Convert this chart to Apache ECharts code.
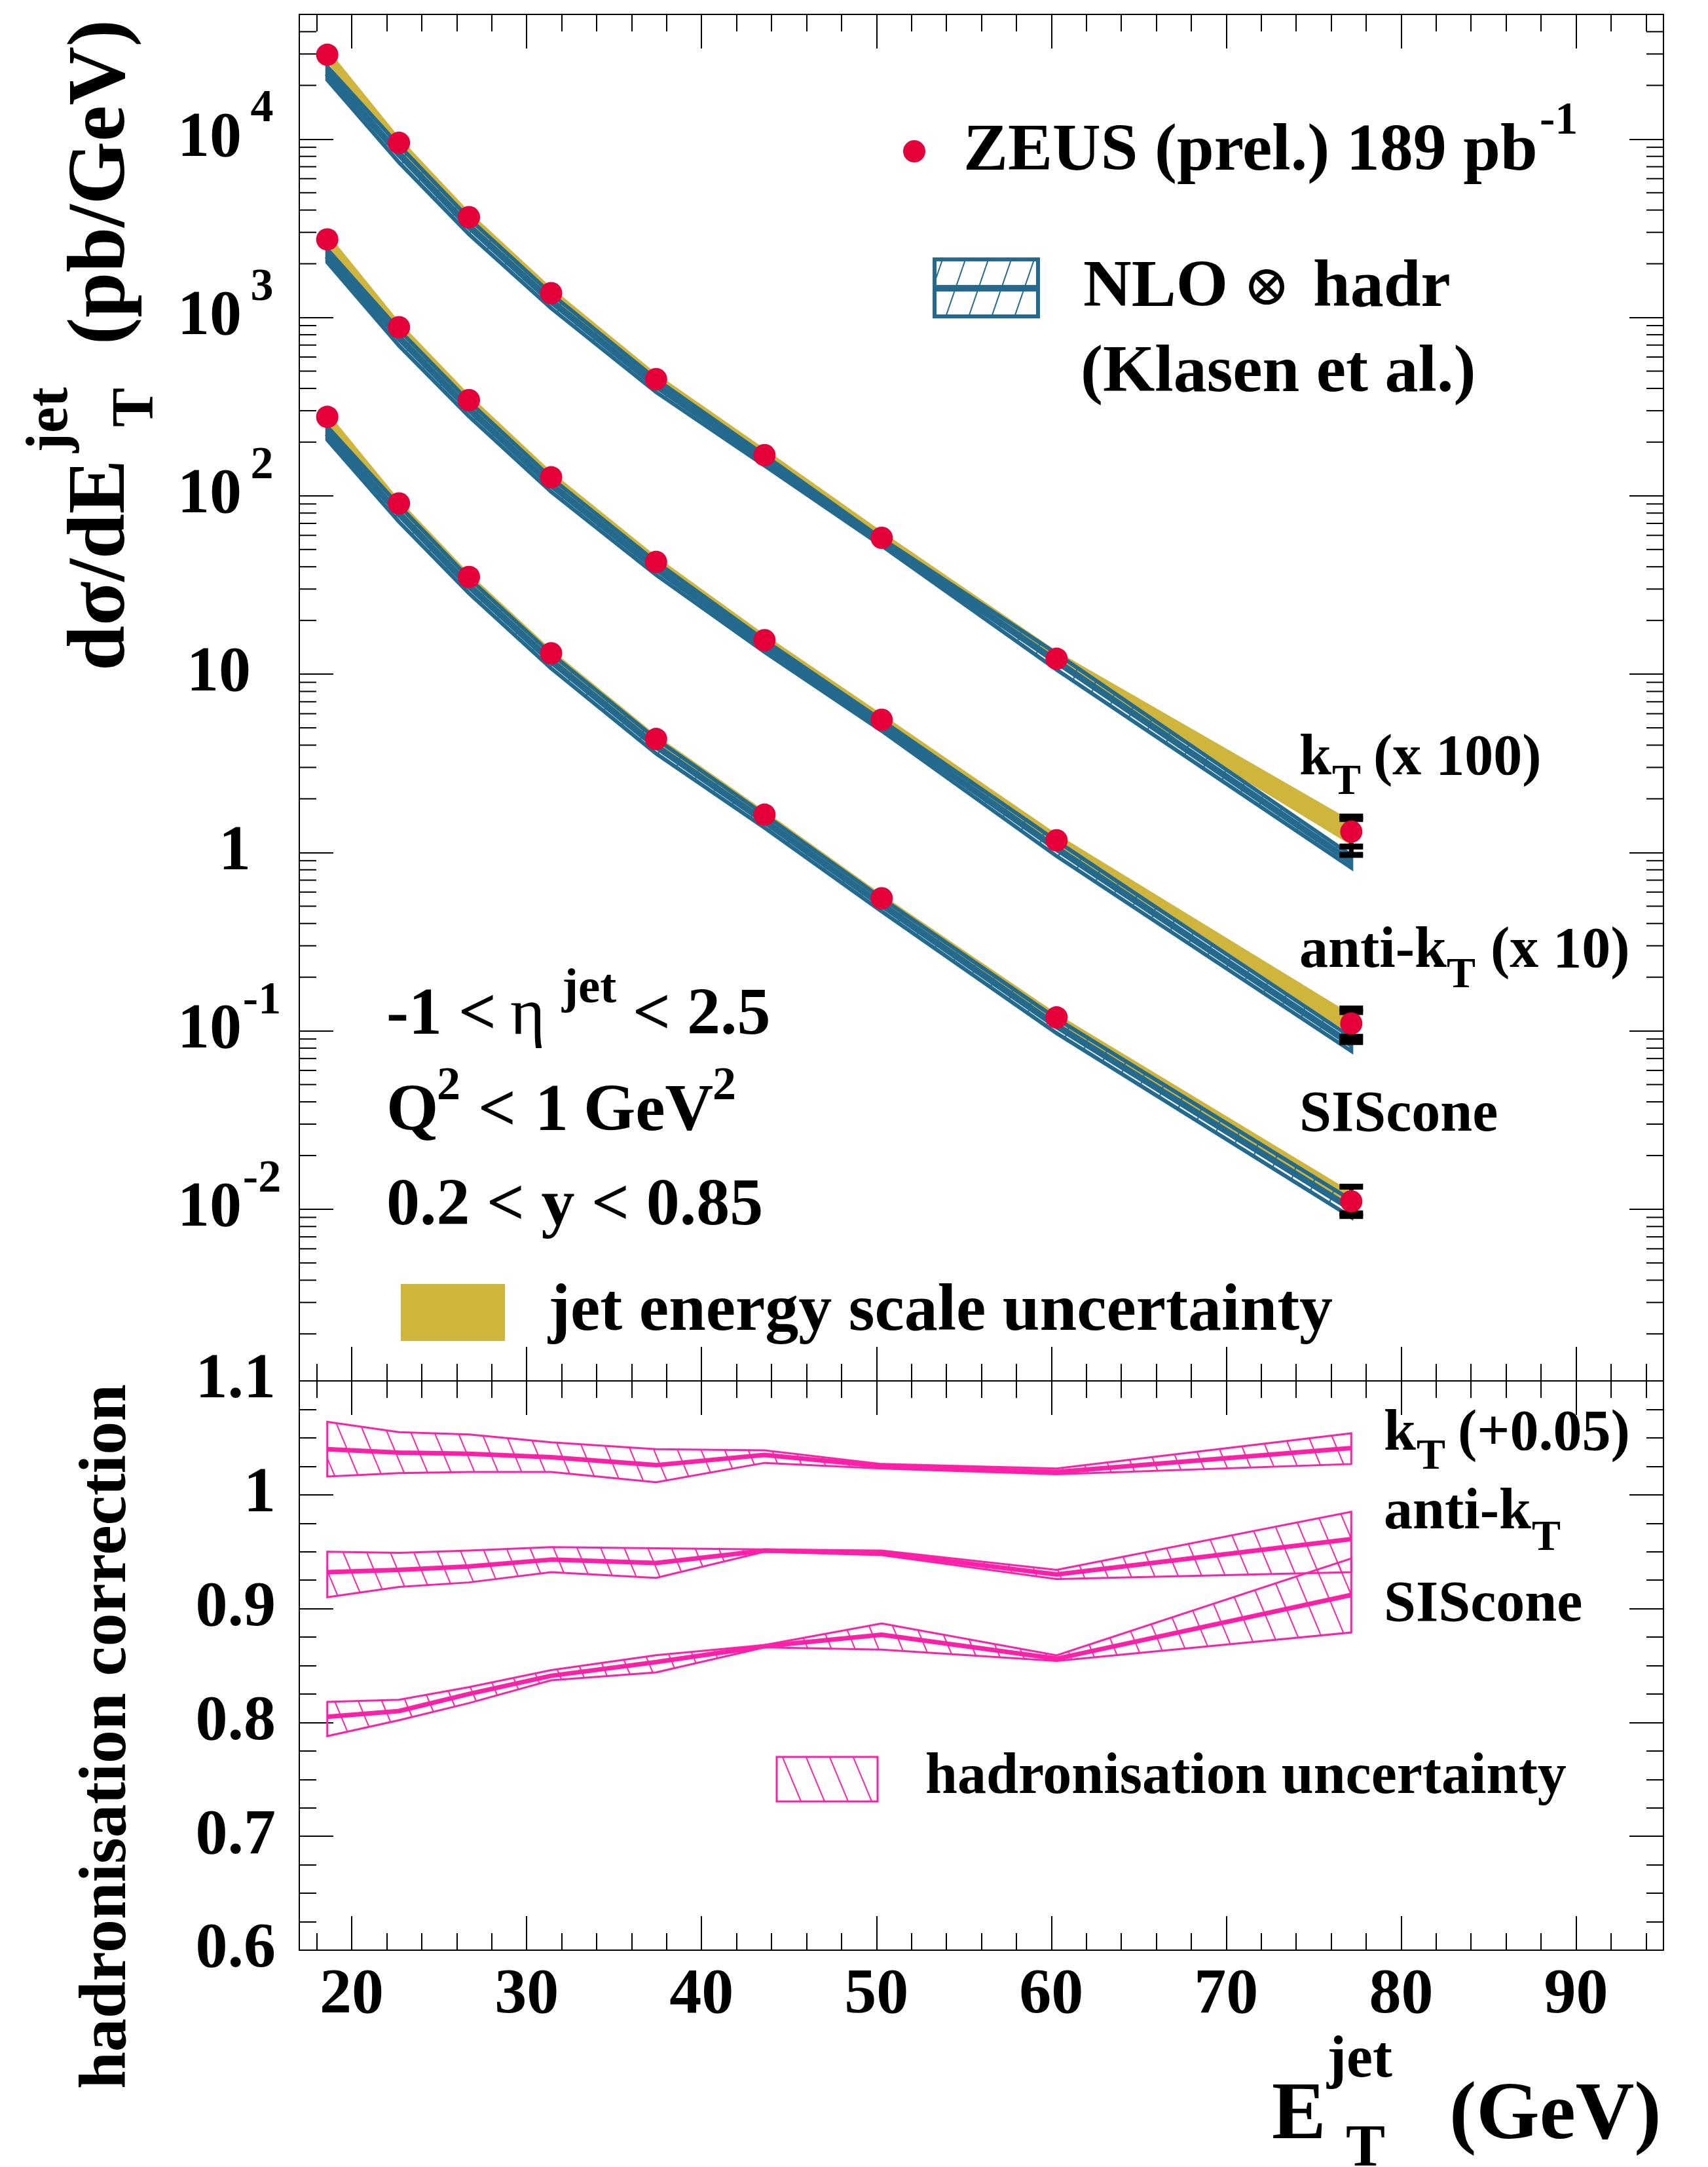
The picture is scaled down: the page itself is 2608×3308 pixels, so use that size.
<!DOCTYPE html>
<html>
<head>
<meta charset="utf-8">
<script src="https://cdn.jsdelivr.net/npm/echarts@6/dist/echarts.min.js"></script>
<style>
  html, body { margin: 0; padding: 0; background: #fff; }
  #chart { width: 2608px; height: 3308px; }
</style>
</head>
<body>
<div id="chart"></div>
<script>
// ---------------- data ----------------
// mean E_T^jet of each bin (GeV)
const etJet = [18.6, 22.7, 26.7, 31.4, 37.4, 43.6, 50.3, 60.3, 77.15];

// inclusive jet cross sections dσ/dE_T (pb/GeV), unscaled
const ktScale = 100, antiScale = 10, sisScale = 1;

const ktData  = [297, 95.3, 36.5, 13.68, 4.51, 1.69, 0.581, 0.122, 0.0131];
const ktStat  = [1.5, 0.5, 0.2, 0.08, 0.03, 0.012, 0.005, 0.0015, 0.0023];
const ktTotUp = [10, 3.5, 1.4, 0.6, 0.2, 0.08, 0.03, 0.007, 0.0028];
const ktTotDn = [10, 3.5, 1.4, 0.6, 0.2, 0.08, 0.03, 0.007, 0.0034];
const ktJesUp = [323, 102.8, 39.4, 14.76, 4.87, 1.84, 0.632, 0.135, 0.01513];
const ktJesDn = [268.5, 87.6, 33.55, 12.57, 4.14, 1.55, 0.534, 0.112, 0.01096];
const ktNlo   = [234, 82.6, 32.4, 12.36, 4.15, 1.58, 0.55, 0.118, 0.0089];
const ktNloUp = [255, 92.2, 35.9, 13.57, 4.51, 1.69, 0.576, 0.1305, 0.00965];
const ktNloDn = [215, 74.0, 29.3, 11.26, 3.81, 1.475, 0.525, 0.106, 0.00822];

const antiData  = [274, 88.1, 34.4, 12.7, 4.26, 1.55, 0.555, 0.117, 0.0110];
const antiStat  = [1.4, 0.45, 0.18, 0.07, 0.03, 0.012, 0.005, 0.0015, 0.00175];
const antiTotUp = [9, 3.2, 1.3, 0.55, 0.19, 0.07, 0.028, 0.007, 0.00234];
const antiTotDn = [9, 3.2, 1.3, 0.55, 0.19, 0.07, 0.028, 0.007, 0.00234];
const antiJesUp = [298, 95.1, 37.1, 13.70, 4.60, 1.672, 0.599, 0.1273, 0.01239];
const antiJesDn = [248, 81.0, 31.6, 11.67, 3.91, 1.424, 0.510, 0.1075, 0.00953];
const antiNlo   = [222, 77.0, 30.7, 11.52, 3.92, 1.436, 0.515, 0.1053, 0.00842];
const antiNloUp = [241, 85.2, 33.8, 12.6, 4.26, 1.55, 0.551, 0.116, 0.0092];
const antiNloDn = [204, 69.5, 27.9, 10.54, 3.60, 1.331, 0.481, 0.0955, 0.00771];

const sisData  = [277, 90.6, 35.1, 13.1, 4.33, 1.63, 0.554, 0.119, 0.01107];
const sisStat  = [1.4, 0.45, 0.18, 0.07, 0.03, 0.012, 0.005, 0.0015, 0.0016];
const sisTotUp = [9, 3.3, 1.3, 0.56, 0.19, 0.075, 0.028, 0.007, 0.0023];
const sisTotDn = [9, 3.3, 1.3, 0.56, 0.19, 0.075, 0.028, 0.007, 0.0019];
const sisJesUp = [296, 95.3, 36.9, 13.78, 4.56, 1.715, 0.583, 0.1252, 0.01256];
const sisJesDn = [246, 80.5, 31.2, 11.63, 3.85, 1.447, 0.492, 0.1057, 0.00966];
const sisNlo   = [224, 79.5, 31.3, 11.84, 3.94, 1.50, 0.509, 0.1066, 0.01008];
const sisNloUp = [244, 88.3, 34.5, 13.0, 4.33, 1.63, 0.554, 0.117, 0.01126];
const sisNloDn = [206, 71.5, 28.4, 10.78, 3.59, 1.377, 0.468, 0.0971, 0.00903];

// hadronisation corrections with their uncertainty (k_T drawn shifted by +0.05)
const ktCorrShift = 0.05;
const ktCorr     = [0.990, 0.987, 0.986, 0.983, 0.976, 0.985, 0.975, 0.970, 0.991];
const ktCorrUp   = [1.014, 1.005, 1.003, 0.996, 0.990, 0.989, 0.977, 0.973, 1.004];
const ktCorrDn   = [0.966, 0.969, 0.970, 0.970, 0.961, 0.978, 0.973, 0.968, 0.977];
const antiCorr   = [0.932, 0.934, 0.937, 0.943, 0.940, 0.951, 0.949, 0.930, 0.961];
const antiCorrUp = [0.950, 0.949, 0.951, 0.954, 0.953, 0.952, 0.951, 0.934, 0.985];
const antiCorrDn = [0.910, 0.919, 0.923, 0.932, 0.927, 0.950, 0.947, 0.926, 0.932];
const sisCorr    = [0.805, 0.810, 0.825, 0.841, 0.853, 0.867, 0.877, 0.856, 0.912];
const sisCorrUp  = [0.818, 0.820, 0.831, 0.846, 0.859, 0.868, 0.887, 0.859, 0.944];
const sisCorrDn  = [0.788, 0.802, 0.817, 0.837, 0.844, 0.866, 0.864, 0.854, 0.879];

// axis ticks and labels
const etTicks = [20, 30, 40, 50, 60, 70, 80, 90];
const decadeExps = [-2, -1, 0, 1, 2, 3, 4];
const minorMantissas = [2, 3, 4, 5, 6, 7, 8, 9];
const corrTicks = [0.6, 0.7, 0.8, 0.9, 1.0, 1.1];
const corrTickText = ['0.6', '0.7', '0.8', '0.9', '1', '1.1'];

// ---------------- style & layout ----------------
const FONT = '"Liberation Serif", "DejaVu Serif", serif';
const SYMFONT = '"DejaVu Serif", "Liberation Serif", serif';
const BLUE = '#236a8e', GOLD = '#d0b53d', RED = '#e5003a', PINK = '#ff1fa8';
const L = 457, R = 2540, TOP = 22, MID = 2108, BOT = 2977;
const ET_MIN = 17, ET_MAX = 95;
const XS_MIN = 0.00109, XS_MAX = 50000;
const DOT_R = 17;

// repeating hatch tile: dir +1 draws '/', -1 draws '\'
function hatchTile(color, dir, step, ratio, lw) {
  const h = Math.round(step * ratio);
  const c = document.createElement('canvas');
  c.width = step; c.height = h;
  const g = c.getContext('2d');
  g.strokeStyle = color; g.lineWidth = lw;
  for (let k = -1; k <= 1; k++) {
    g.beginPath();
    if (dir > 0) { g.moveTo(k * step, h); g.lineTo((k + 1) * step, 0); }
    else { g.moveTo(k * step, 0); g.lineTo((k + 1) * step, h); }
    g.stroke();
  }
  return { image: c, repeat: 'repeat' };
}
const hatchBlue = hatchTile(BLUE, 1, 35, 2.9, 2);
const hatchPink = hatchTile(PINK, -1, 36, 2.4, 2);

// ---------------- axes ----------------
const axisLineStyle = { color: '#000', width: 2 };

function etAxis(grid, pos, labels) {
  return {
    type: 'value', gridIndex: grid, position: pos, min: ET_MIN, max: ET_MAX, splitNumber: 8,
    axisLine: { show: true, onZero: false, lineStyle: axisLineStyle },
    axisTick: { show: true, inside: true, length: 52, lineStyle: axisLineStyle },
    minorTick: { show: true, splitNumber: 5, length: 26, lineStyle: axisLineStyle },
    splitLine: { show: false }, minorSplitLine: { show: false },
    axisLabel: {
      show: labels, margin: 21, color: '#000', fontFamily: FONT, fontWeight: 'bold', fontSize: 98,
      showMinLabel: false, showMaxLabel: false,
      formatter: v => (etTicks.indexOf(Math.round(v)) >= 0 && Math.abs(v - Math.round(v)) < 1e-6) ? String(Math.round(v)) : ''
    }
  };
}

function decadeLabel(v) {
  const lg = Math.log10(v);
  const e = Math.round(lg);
  if (Math.abs(lg - e) > 1e-6 || decadeExps.indexOf(e) < 0) return '';
  if (e === 0) return '{p|1}';
  if (e === 1) return '{p|10}';
  return '{b|10}{s|' + e + '}';
}

function xsAxis(pos, labels) {
  return {
    type: 'log', logBase: 10, gridIndex: 0, position: pos, min: XS_MIN, max: XS_MAX,
    axisLine: { show: true, onZero: false, lineStyle: axisLineStyle },
    axisTick: { show: true, inside: true, length: 52, lineStyle: axisLineStyle },
    splitLine: { show: false },
    axisLabel: {
      show: labels, margin: 26, formatter: decadeLabel,
      rich: {
        p: { fontFamily: FONT, fontWeight: 'bold', fontSize: 98, color: '#000', padding: [0, 48, 0, 0] },
        b: { fontFamily: FONT, fontWeight: 'bold', fontSize: 98, color: '#000', lineHeight: 160 },
        s: { fontFamily: FONT, fontWeight: 'bold', fontSize: 70, color: '#000', lineHeight: 70,
             verticalAlign: 'top', width: 62, align: 'left' }
      }
    }
  };
}

function corrAxis(pos, labels) {
  return {
    type: 'value', gridIndex: 1, position: pos, min: 0.6, max: 1.1, interval: 0.1,
    axisLine: { show: true, onZero: false, lineStyle: axisLineStyle },
    axisTick: { show: true, inside: true, length: 52, lineStyle: axisLineStyle },
    minorTick: { show: true, splitNumber: 4, length: 26, lineStyle: axisLineStyle },
    splitLine: { show: false }, minorSplitLine: { show: false },
    axisLabel: {
      show: labels, margin: 36, color: '#000', fontFamily: FONT, fontWeight: 'bold', fontSize: 98,
      formatter: v => {
        for (let i = 0; i < corrTicks.length; i++) if (Math.abs(v - corrTicks[i]) < 1e-6) return corrTickText[i];
        return '';
      }
    }
  };
}

// ---------------- series builders ----------------
// closed band polygon between an upper and lower curve
function bandSeries(xs, up, dn, xi, yi, style, z) {
  return {
    type: 'custom', xAxisIndex: xi, yAxisIndex: yi, z: z, silent: true,
    data: xs.map((x, i) => [x, up[i], dn[i]]),
    encode: { x: 0, y: [1, 2] },
    renderItem(params, api) {
      if (params.dataIndex !== 0) return { type: 'group', children: [] };
      const n = params.dataInsideLength;
      const pts = [];
      for (let i = 0; i < n; i++) pts.push(api.coord([api.value(0, i), api.value(1, i)]));
      for (let i = n - 1; i >= 0; i--) pts.push(api.coord([api.value(0, i), api.value(2, i)]));
      return { type: 'polygon', shape: { points: pts }, style: style };
    }
  };
}

function lineSeries(xs, ys, xi, yi, color, width, z) {
  return {
    type: 'line', xAxisIndex: xi, yAxisIndex: yi, z: z, silent: true,
    data: xs.map((x, i) => [x, ys[i]]),
    showSymbol: false, symbol: 'none',
    lineStyle: { color: color, width: width }
  };
}

// error bars with caps; parts hidden by the marker are skipped
function errorSeries(xs, ys, stat, totUp, totDn, z) {
  return {
    type: 'custom', xAxisIndex: 0, yAxisIndex: 0, z: z, silent: true,
    data: xs.map((x, i) => [x, ys[i], ys[i] - stat[i], ys[i] + stat[i], ys[i] - totDn[i], ys[i] + totUp[i]]),
    encode: { x: 0, y: 1 },
    renderItem(params, api) {
      const x = api.value(0);
      const c = api.coord([x, api.value(1)]);
      const kids = [];
      const yLo = api.coord([x, api.value(4)])[1];
      const yHi = api.coord([x, api.value(5)])[1];
      if (yLo - c[1] > DOT_R) kids.push({ type: 'line', shape: { x1: c[0], y1: c[1] + DOT_R, x2: c[0], y2: yLo }, style: { stroke: '#000', lineWidth: 7 } });
      if (c[1] - yHi > DOT_R) kids.push({ type: 'line', shape: { x1: c[0], y1: yHi, x2: c[0], y2: c[1] - DOT_R }, style: { stroke: '#000', lineWidth: 7 } });
      [2, 3, 4, 5].forEach(k => {
        const py = api.coord([x, api.value(k)])[1];
        if (Math.abs(py - c[1]) > DOT_R) kids.push({ type: 'rect', shape: { x: c[0] - 18, y: py - 4.5, width: 36, height: 9 }, style: { fill: '#000' } });
      });
      return { type: 'group', children: kids };
    }
  };
}

const scaled = (arr, s) => arr.map(v => v * s);
const shifted = (arr, d) => arr.map(v => v + d);

const algos = [
  { s: ktScale, d: ktData, st: ktStat, tu: ktTotUp, td: ktTotDn, ju: ktJesUp, jd: ktJesDn, n: ktNlo, nu: ktNloUp, nd: ktNloDn },
  { s: antiScale, d: antiData, st: antiStat, tu: antiTotUp, td: antiTotDn, ju: antiJesUp, jd: antiJesDn, n: antiNlo, nu: antiNloUp, nd: antiNloDn },
  { s: sisScale, d: sisData, st: sisStat, tu: sisTotUp, td: sisTotDn, ju: sisJesUp, jd: sisJesDn, n: sisNlo, nu: sisNloUp, nd: sisNloDn }
];

const series = [];

// minor ticks of the logarithmic cross-section axis (left and right frame)
const minorTickVals = [];
for (let d = -3; d <= 4; d++) {
  minorMantissas.forEach(m => {
    const v = m * Math.pow(10, d);
    if (v > XS_MIN && v < XS_MAX) minorTickVals.push(v);
  });
}
series.push({
  type: 'custom', xAxisIndex: 0, yAxisIndex: 0, z: 1, silent: true,
  data: minorTickVals.map(v => [ET_MIN, v]),
  encode: { x: 0, y: 1 },
  renderItem(params, api) {
    const v = api.value(1);
    const pl = api.coord([ET_MIN, v]), pr = api.coord([ET_MAX, v]);
    return { type: 'group', children: [
      { type: 'line', shape: { x1: pl[0], y1: pl[1], x2: pl[0] + 26, y2: pl[1] }, style: { stroke: '#000', lineWidth: 2 } },
      { type: 'line', shape: { x1: pr[0], y1: pr[1], x2: pr[0] - 26, y2: pr[1] }, style: { stroke: '#000', lineWidth: 2 } }
    ] };
  }
});

algos.forEach(a => {
  series.push(bandSeries(etJet, scaled(a.ju, a.s), scaled(a.jd, a.s), 0, 0, { fill: GOLD }, 2));
  series.push(bandSeries(etJet, scaled(a.nu, a.s), scaled(a.nd, a.s), 0, 0,
    { fill: hatchBlue, stroke: BLUE, lineWidth: 6, lineJoin: 'miter' }, 3));
  series.push(lineSeries(etJet, scaled(a.n, a.s), 0, 0, BLUE, 10, 4));
  series.push(errorSeries(etJet, scaled(a.d, a.s), scaled(a.st, a.s), scaled(a.tu, a.s), scaled(a.td, a.s), 5));
  series.push({
    type: 'scatter', xAxisIndex: 0, yAxisIndex: 0, z: 6, silent: true,
    symbol: 'circle', symbolSize: DOT_R * 2,
    itemStyle: { color: RED, opacity: 1 },
    data: etJet.map((x, i) => [x, a.d[i] * a.s])
  });
});

[
  [shifted(ktCorr, ktCorrShift), shifted(ktCorrUp, ktCorrShift), shifted(ktCorrDn, ktCorrShift)],
  [antiCorr, antiCorrUp, antiCorrDn],
  [sisCorr, sisCorrUp, sisCorrDn]
].forEach(c => {
  series.push(bandSeries(etJet, c[1], c[2], 2, 2, { fill: hatchPink, stroke: PINK, lineWidth: 3 }, 3));
  series.push(lineSeries(etJet, c[0], 2, 2, PINK, 7, 4));
});

// ---------------- text ----------------
function txt(x, base, s, size, opt) {
  opt = opt || {};
  return {
    type: 'text', x: x, y: base - 0.34 * size, z: 50, silent: true,
    style: {
      text: s, font: (opt.weight || 'bold') + ' ' + size + 'px ' + (opt.family || FONT),
      fill: opt.fill || '#000', align: opt.align || 'left', verticalAlign: 'middle'
    }
  };
}

const graphics = [
  // data legend
  { type: 'circle', shape: { cx: 1396, cy: 231, r: DOT_R }, style: { fill: RED }, z: 50 },
  txt(1471, 267, 'ZEUS (prel.) 189 pb', 102),
  txt(2351, 210, '-1', 70),
  // theory legend
  { type: 'rect', shape: { x: 1427, y: 396, width: 158, height: 87 }, style: { fill: hatchBlue, stroke: BLUE, lineWidth: 6 }, z: 50 },
  { type: 'line', shape: { x1: 1427, y1: 440, x2: 1585, y2: 440 }, style: { stroke: BLUE, lineWidth: 10 }, z: 50 },
  txt(1654, 475, 'NLO', 102), txt(1898, 472, '\u2297', 86, { weight: 'normal', family: SYMFONT }), txt(2005, 475, 'hadr', 102),
  txt(1650, 605, '(Klasen et al.)', 102),
  // phase space
  txt(590, 1586, '-1', 102), txt(700, 1586, '<', 102), txt(779, 1586, '\u03b7', 102, { weight: 'normal' }),
  txt(858, 1536, 'jet', 75), txt(966, 1586, '<', 102), txt(1049, 1586, '2.5', 102),
  txt(590, 1733, 'Q', 102), txt(667, 1684, '2', 72), txt(730, 1733, '<', 102), txt(817, 1733, '1', 102),
  txt(891, 1733, 'GeV', 102), txt(1088, 1684, '2', 72),
  txt(590, 1877, '0.2 < y < 0.85', 102),
  // jet energy scale legend
  { type: 'rect', shape: { x: 612, y: 1960, width: 159, height: 87 }, style: { fill: GOLD }, z: 50 },
  txt(837, 2038, 'jet energy scale uncertainty', 102),
  // curve labels, upper panel
  txt(1984, 1189, 'k', 88), txt(2034, 1217, 'T', 66), txt(2097, 1189, '(x 100)', 88),
  txt(1984, 1483, 'anti-k', 88), txt(2209, 1512, 'T', 66), txt(2276, 1483, '(x 10)', 88),
  txt(1984, 1733, 'SIScone', 88),
  // curve labels, lower panel
  txt(2113, 2220, 'k', 88), txt(2163, 2247, 'T', 66), txt(2226, 2220, '(+0.05)', 88),
  txt(2113, 2340, 'anti-k', 88), txt(2339, 2371, 'T', 66),
  txt(2113, 2481, 'SIScone', 88),
  { type: 'rect', shape: { x: 1186, y: 2682, width: 154, height: 68 }, style: { fill: hatchPink, stroke: PINK, lineWidth: 3 }, z: 50 },
  txt(1413, 2744, 'hadronisation uncertainty', 88),
  // x-axis title
  txt(1942, 3274, 'E', 124), txt(2026, 3177, 'jet', 90), txt(2055, 3313, 'T', 90), txt(2213, 3274, '(GeV)', 124),
  // y-axis titles (rotated, reading upwards)
  { type: 'group', x: 199, y: 1024, rotation: Math.PI / 2, children: [
      txt(0, 0, 'd\u03c3/dE', 124), txt(333, -90, 'jet', 90), txt(372, 41, 'T', 90), txt(498, 0, '(pb/GeV)', 124)
  ] },
  { type: 'group', x: 199, y: 2651, rotation: Math.PI / 2, children: [
      txt(0, 0, 'hadronisation correction', 102, { align: 'center' })
  ] }
];

// ---------------- chart ----------------
const chart = echarts.init(document.getElementById('chart'), null, { renderer: 'canvas', width: 2608, height: 3308 });
chart.setOption({
  animation: false,
  backgroundColor: '#fff',
  grid: [
    { left: L, top: TOP, width: R - L, height: MID - TOP },
    { left: L, top: MID, width: R - L, height: BOT - MID }
  ],
  xAxis: [etAxis(0, 'bottom', false), etAxis(0, 'top', false), etAxis(1, 'bottom', true), etAxis(1, 'top', false)],
  yAxis: [xsAxis('left', true), xsAxis('right', false), corrAxis('left', true), corrAxis('right', false)],
  series: series,
  graphic: { elements: graphics }
});
</script>
</body>
</html>
